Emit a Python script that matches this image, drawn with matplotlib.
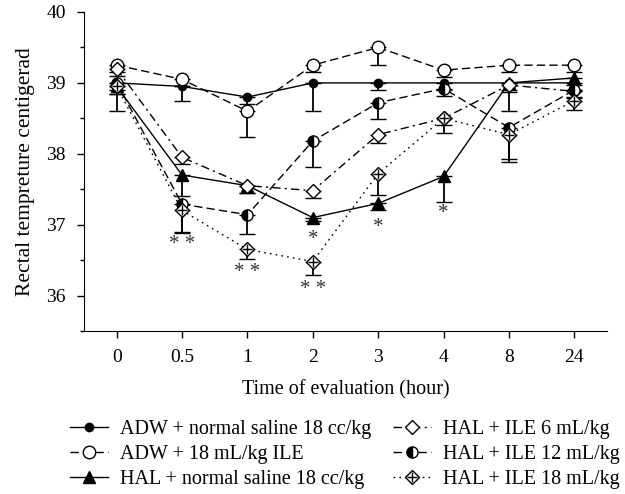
import matplotlib
matplotlib.use("Agg")
import matplotlib.pyplot as plt
import numpy as np
from matplotlib.legend_handler import HandlerTuple
from matplotlib.lines import Line2D
from matplotlib.ticker import MultipleLocator

times = ["0", "0.5", "1", "2", "3", "4", "8", "24"]

adw_saline = [39.0, 38.95, 38.8, 39.0, 39.0, 39.0, 39.0, 39.0]
adw_saline_err = [0.4, 0.2, 0.1, 0.4, 0.1, 0.1, 0.1, 0.1]
adw_ile = [39.25, 39.05, 38.6, 39.25, 39.5, 39.18, 39.25, 39.25]
adw_ile_err = [0.1, 0.1, 0.37, 0.1, 0.25, 0.1, 0.1, 0.1]
hal_saline = [38.95, 37.7, 37.55, 37.1, 37.3, 37.68, 39.0, 39.07]
hal_saline_err = [0.1, 0.3, 0.1, 0.05, 0.1, 0.36, 0.4, 0.1]
hal_ile6 = [39.2, 37.95, 37.55, 37.48, 38.27, 38.5, 38.97, 38.88]
hal_ile6_err = [0.1, 0.1, 0.1, 0.1, 0.12, 0.1, 0.1, 0.1]
hal_ile12 = [39.0, 37.29, 37.14, 38.18, 38.72, 38.92, 38.37, 38.9]
hal_ile12_err = [0.1, 0.41, 0.27, 0.37, 0.23, 0.1, 0.48, 0.1]
hal_ile18 = [38.95, 37.2, 36.65, 36.48, 37.72, 38.5, 38.27, 38.75]
hal_ile18_err = [0.1, 0.3, 0.13, 0.19, 0.3, 0.2, 0.35, 0.13]

labels = [
    "ADW + normal saline 18 cc/kg",
    "ADW + 18 mL/kg ILE",
    "HAL + normal saline 18 cc/kg",
    "HAL + ILE 6 mL/kg",
    "HAL + ILE 12 mL/kg",
    "HAL + ILE 18 mL/kg",
]

# significance marks: (time index, y value, text)
stars = [(1, 36.72, "* *"), (2, 36.33, "* *"), (3, 36.79, "*"),
         (3, 36.09, "* *"), (4, 36.96, "*"), (5, 37.16, "*")]

plt.rcParams["font.family"] = ["Liberation Serif", "DejaVu Serif"]
plt.rcParams["font.size"] = 14

fig = plt.figure(figsize=(6.25, 4.94), dpi=100)
ax = fig.add_axes([84 / 625, 1 - 331 / 494, (607 - 84) / 625, (331 - 12) / 494])
x = np.arange(len(times))

styles = [
    (adw_saline, adw_saline_err, dict(ls="-", marker="o", ms=6, mfc="black")),
    (adw_ile, adw_ile_err, dict(ls=(0, (6, 3)), marker="o", ms=9, mfc="white")),
    (hal_saline, hal_saline_err, dict(ls="-", marker="^", ms=9, mfc="black")),
    (hal_ile6, hal_ile6_err, dict(ls=(0, (6, 3, 1.5, 3)), marker="D", ms=7, mfc="white")),
    (hal_ile12, hal_ile12_err, dict(ls=(0, (6, 3)), marker="o", ms=8, mfc="black",
                                    fillstyle="left", markerfacecoloralt="white")),
    (hal_ile18, hal_ile18_err, dict(ls=(0, (1.2, 3)), marker="D", ms=7, mfc="white")),
]

handles = []
for i, (vals, err, st) in enumerate(styles):
    lower = np.array(err)
    ax.errorbar(x, vals, yerr=[lower, np.zeros_like(lower)], color="black", lw=1.0,
                ecolor="black", elinewidth=1.3, capsize=6, capthick=1.5,
                mec="black", mew=1.0, zorder=3 + i, **st)
    h = Line2D([], [], color="black", lw=1.0, mec="black", mew=1.0, **st)
    if i == 5:
        ax.plot(x, vals, ls="none", marker="+", ms=7, mew=1.0, color="black", zorder=9)
        h = (h, Line2D([], [], ls="none", marker="+", ms=7, mew=1.0, color="black"))
    handles.append(h)

for xi, yv, s in stars:
    ax.text(xi, yv, s, ha="center", va="center", fontsize=15, color="#333333")

ax.set_xlim(-0.5, 7.5)
ax.set_ylim(35.5, 40)
ax.set_xticks(x)
ax.set_xticklabels(times)
ax.yaxis.set_major_locator(MultipleLocator(1))
ax.yaxis.set_minor_locator(MultipleLocator(0.5))
ax.tick_params(direction="out", length=5, width=1, labelsize=14, pad=8)
ax.tick_params(which="minor", length=3, width=1)
for side in ("top", "right"):
    ax.spines[side].set_visible(False)
ax.set_xlabel("Time of evaluation (hour)", fontsize=14.5, labelpad=10)
ax.set_ylabel("Rectal tempreture centigerad", fontsize=15.5, labelpad=8)

fig.legend(handles, labels, loc="upper left", bbox_to_anchor=(0.112, 1 - 420 / 494),
           ncol=2, frameon=False, fontsize=14.5, handlelength=1.9, handletextpad=0.6,
           labelspacing=0.28, columnspacing=1.05, borderpad=0, borderaxespad=0,
           handler_map={tuple: HandlerTuple(ndivide=1, pad=0)})

fig.savefig("out.png", dpi=100)
